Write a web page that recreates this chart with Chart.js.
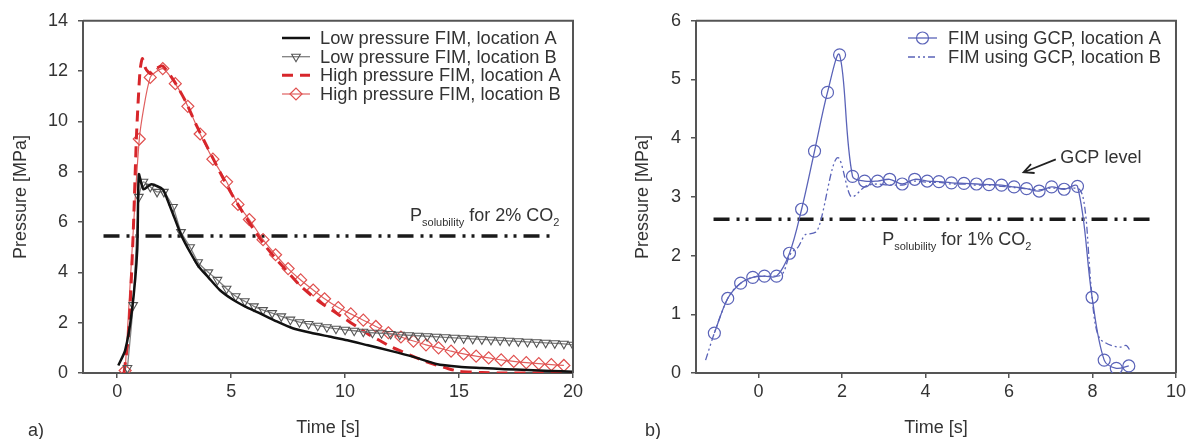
<!DOCTYPE html>
<html>
<head>
<meta charset="utf-8">
<script src="https://cdn.jsdelivr.net/npm/chart.js@4.4.0/dist/chart.umd.min.js"></script>
<style>
    body { margin: 0; background: #fff; width: 1189px; height: 439px; overflow: hidden; position: relative; font-family: "Liberation Sans", Arial, sans-serif; }
    canvas { position: absolute; top: 0; }
    #chartA { left: 0; }
    #chartB { left: 600px; }
    .panel-label { position: absolute; top: 420px; font-size: 18px; line-height: 20px; color: #333; }
</style>
</head>
<body>
<canvas id="chartA" width="600" height="439"></canvas>
<canvas id="chartB" width="589" height="439"></canvas>
<div class="panel-label" style="left:28px">a)</div>
<div class="panel-label" style="left:645px">b)</div>
<script>
// panel a) - low / high pressure FIM
const lowA_t = [0.05, 0.35, 0.65, 0.88, 0.95, 1.15, 1.5, 2.0, 2.2, 2.5, 2.8, 3.2, 3.6, 4.0, 4.5, 5.1, 5.6, 6.2, 7.0, 7.7, 8.5, 9.3, 10.1, 11, 12, 13, 14, 15, 16, 17, 18, 19, 20];
const lowA_p = [0.3, 0.9, 2.5, 4.9, 7.9, 7.3, 7.5, 7.3, 6.9, 6.2, 5.5, 4.8, 4.2, 3.8, 3.3, 2.9, 2.65, 2.4, 2.05, 1.78, 1.6, 1.45, 1.3, 1.1, 0.88, 0.64, 0.36, 0.25, 0.2, 0.15, 0.12, 0.08, 0.05];

const lowB_t = [0.45, 0.7, 0.95, 1.15, 1.45, 1.75, 2.05, 2.45, 2.8, 3.2, 3.55, 4.0, 4.4, 4.8, 5.2, 5.6, 6.0, 6.4, 6.8, 7.2, 7.6, 8.0, 8.4, 8.8, 9.2, 9.6, 10.0, 10.4, 10.8, 11.2, 11.6, 12.0, 12.4, 12.8, 13.2, 13.6, 14.0, 14.4, 14.8, 15.2, 15.6, 16.0, 16.4, 16.8, 17.2, 17.6, 18.0, 18.4, 18.8, 19.2, 19.6, 20.0];
const lowB_p = [0.2, 2.7, 7.0, 7.6, 7.4, 7.2, 7.2, 6.6, 5.6, 5.0, 4.4, 4.0, 3.7, 3.35, 3.05, 2.85, 2.65, 2.5, 2.38, 2.25, 2.12, 2.02, 1.95, 1.88, 1.82, 1.76, 1.72, 1.68, 1.64, 1.6, 1.58, 1.55, 1.52, 1.5, 1.48, 1.46, 1.44, 1.42, 1.4, 1.38, 1.36, 1.34, 1.32, 1.3, 1.28, 1.26, 1.24, 1.22, 1.2, 1.18, 1.16, 1.12];

const highA_t = [0.3, 0.5, 0.7, 0.85, 1.0, 1.1, 1.25, 1.45, 1.7, 2.0, 2.5, 3, 3.5, 4, 4.5, 5, 5.5, 6, 6.5, 7, 7.5, 8, 8.5, 9, 9.5, 10, 10.5, 11, 11.5, 12, 12.5, 13, 13.5, 14, 14.5, 15, 16, 17, 20];
const highA_p = [0, 1.5, 5.5, 9.5, 12.0, 12.5, 12.1, 11.9, 12.1, 12.2, 11.6, 10.8, 9.8, 8.9, 8.0, 7.15, 6.4, 5.7, 5.05, 4.5, 4.0, 3.5, 3.1, 2.75, 2.45, 2.15, 1.85, 1.55, 1.3, 1.05, 0.85, 0.65, 0.47, 0.32, 0.18, 0.07, 0.02, 0, 0];

const highB_t = [0.35, 0.97, 1.45, 2.0, 2.55, 3.1, 3.64, 4.2, 4.8, 5.3, 5.8, 6.4, 6.95, 7.5, 8.05, 8.6, 9.1, 9.7, 10.25, 10.8, 11.35, 11.9, 12.45, 13.0, 13.55, 14.1, 14.65, 15.2, 15.75, 16.3, 16.85, 17.4, 17.95, 18.5, 19.05, 19.6];
const highB_p = [0.1, 9.3, 11.75, 12.1, 11.5, 10.6, 9.5, 8.5, 7.6, 6.7, 6.1, 5.3, 4.7, 4.15, 3.7, 3.3, 2.95, 2.6, 2.35, 2.1, 1.85, 1.6, 1.43, 1.27, 1.12, 1.0, 0.87, 0.76, 0.67, 0.6, 0.52, 0.46, 0.41, 0.37, 0.33, 0.3];

const solA_t = [-0.6, 19.1];
const solA_p = [5.45, 5.45];

const xTicksA = [0, 5, 10, 15, 20];
const yTicksA = [0, 2, 4, 6, 8, 10, 12, 14];

// panel b) - FIM using GCP
const gcpA_t = [-1.06, -0.74, -0.43, -0.14, 0.14, 0.43, 0.74, 1.03, 1.34, 1.65, 1.94, 2.25, 2.54, 2.85, 3.14, 3.44, 3.74, 4.04, 4.32, 4.62, 4.92, 5.22, 5.52, 5.82, 6.12, 6.42, 6.72, 7.02, 7.32, 7.64, 7.99, 8.28, 8.57, 8.87];
const gcpA_p = [0.68, 1.27, 1.53, 1.63, 1.65, 1.65, 2.04, 2.79, 3.78, 4.78, 5.42, 3.35, 3.27, 3.27, 3.3, 3.22, 3.3, 3.27, 3.26, 3.24, 3.23, 3.22, 3.21, 3.2, 3.17, 3.14, 3.1, 3.17, 3.13, 3.18, 1.29, 0.22, 0.08, 0.12];

const gcpB_t = [-1.27, -1.06, -0.74, -0.43, -0.14, 0.14, 0.43, 0.6, 0.74, 0.95, 1.13, 1.37, 1.9, 2.23, 2.56, 2.85, 3.14, 3.44, 3.74, 4.04, 4.32, 4.62, 4.92, 5.22, 5.52, 5.82, 6.12, 6.42, 6.72, 7.02, 7.32, 7.6, 7.75, 7.85, 7.95, 8.05, 8.15, 8.3, 8.5, 8.65, 8.8, 8.92];
const gcpB_p = [0.22, 0.68, 1.27, 1.53, 1.63, 1.65, 1.65, 1.72, 2.0, 2.15, 2.36, 2.4, 3.67, 3.0, 3.18, 3.22, 3.2, 3.2, 3.27, 3.25, 3.25, 3.22, 3.22, 3.2, 3.2, 3.18, 3.16, 3.14, 3.12, 3.15, 3.14, 3.15, 3.05, 2.6, 1.6, 0.9, 0.62, 0.52, 0.46, 0.44, 0.47, 0.36];

const solB_t = [-1.08, 9.52];
const solB_p = [2.62, 2.62];

const xTicksB = [0, 2, 4, 6, 8, 10];
const yTicksB = [0, 1, 2, 3, 4, 5, 6];

const FONT = '"Liberation Sans", Arial, sans-serif';
const SOL_DASH = [16, 7, 3, 6, 3, 7];

Chart.defaults.font.family = FONT;
Chart.defaults.color = '#333';

function points(ts, ps) {
    return ts.map((t, i) => ({ x: t, y: ps[i] }));
}

// top + right side of the box
const frame = {
    id: 'frame',
    afterDatasetsDraw(chart) {
        const { ctx, chartArea: a } = chart;
        ctx.save();
        ctx.strokeStyle = '#555';
        ctx.lineWidth = 2;
        ctx.beginPath();
        ctx.moveTo(a.left, a.top);
        ctx.lineTo(a.right, a.top);
        ctx.lineTo(a.right, a.bottom);
        ctx.stroke();
        ctx.restore();
    }
};

const keyBox = {
    id: 'keyBox',
    afterDraw(chart, args, opts) {
        const ctx = chart.ctx;
        chart.data.datasets.forEach((ds, i) => {
            if (!ds.label) return;
            const y = opts.rows[i];
            ctx.save();
            ctx.strokeStyle = ds.borderColor;
            ctx.lineWidth = ds.borderWidth;
            ctx.setLineDash(ds.borderDash || []);
            ctx.beginPath();
            ctx.moveTo(opts.x0, y);
            ctx.lineTo(opts.x1, y);
            ctx.stroke();
            ctx.setLineDash([]);
            if (ds.pointRadius > 0) {
                ctx.strokeStyle = ds.pointBorderColor;
                ctx.fillStyle = 'rgba(255,255,255,0)';
                ctx.lineWidth = ds.pointBorderWidth;
                Chart.helpers.drawPoint(ctx, {
                    pointStyle: ds.pointStyle,
                    rotation: ds.pointRotation || 0,
                    radius: ds.pointRadius,
                    borderWidth: ds.pointBorderWidth
                }, (opts.x0 + opts.x1) / 2, y);
            }
            ctx.fillStyle = '#333';
            ctx.font = '18.3px ' + FONT;
            ctx.textBaseline = 'middle';
            ctx.fillText(ds.label, opts.textX, y + 1);
            ctx.restore();
        });
    }
};

const notes = {
    id: 'notes',
    afterDraw(chart, args, opts) {
        const { ctx, scales } = chart;
        ctx.save();
        ctx.fillStyle = '#333';
        ctx.textBaseline = 'alphabetic';
        opts.texts.forEach(n => {
            let px = scales.x.getPixelForValue(n.t);
            const py = scales.y.getPixelForValue(n.p);
            n.parts.forEach(([s, sub]) => {
                ctx.font = (sub ? '11px ' : '18px ') + FONT;
                ctx.fillText(s, px, py + (sub ? 5 : 0));
                px += ctx.measureText(s).width;
            });
        });
        if (opts.arrow) {
            const a = opts.arrow;
            const x1 = scales.x.getPixelForValue(a.from[0]), y1 = scales.y.getPixelForValue(a.from[1]);
            const x2 = scales.x.getPixelForValue(a.to[0]), y2 = scales.y.getPixelForValue(a.to[1]);
            const ang = Math.atan2(y2 - y1, x2 - x1);
            ctx.strokeStyle = '#222';
            ctx.lineWidth = 1.8;
            ctx.beginPath();
            ctx.moveTo(x1, y1);
            ctx.lineTo(x2, y2);
            ctx.moveTo(x2 - 11 * Math.cos(ang - 0.45), y2 - 11 * Math.sin(ang - 0.45));
            ctx.lineTo(x2, y2);
            ctx.lineTo(x2 - 11 * Math.cos(ang + 0.45), y2 - 11 * Math.sin(ang + 0.45));
            ctx.stroke();
        }
        ctx.restore();
    }
};

function axes(xMin, xMax, xTicks, yMax, yTicks, yWidth, titlePad) {
    const tickFont = { size: 18 };
    return {
        x: {
            type: 'linear',
            min: xMin,
            max: xMax,
            afterBuildTicks: axis => { axis.ticks = xTicks.map(v => ({ value: v })); },
            afterFit: axis => { axis.height = 66; },
            ticks: { font: tickFont, color: '#333', padding: 3, maxRotation: 0 },
            grid: { drawOnChartArea: false, tickLength: 5, color: '#555', lineWidth: 1.5 },
            border: { color: '#555', width: 2 },
            title: { display: true, text: 'Time [s]', font: { size: 18 }, color: '#333', padding: { top: 0, bottom: 0 } }
        },
        y: {
            type: 'linear',
            min: 0,
            max: yMax,
            afterBuildTicks: axis => { axis.ticks = yTicks.map(v => ({ value: v })); },
            afterFit: axis => { axis.width = yWidth; },
            ticks: { font: tickFont, color: '#333', padding: 10 },
            grid: { drawOnChartArea: false, tickLength: 5, color: '#555', lineWidth: 1.5 },
            border: { color: '#555', width: 2 },
            title: { display: true, text: 'Pressure [MPa]', font: { size: 18 }, color: '#333', padding: { top: titlePad, bottom: 0 } }
        }
    };
}

const solubilityLine = (ts, ps) => ({
    data: points(ts, ps),
    borderColor: '#1a1a1a',
    borderWidth: 3.5,
    borderDash: SOL_DASH,
    pointRadius: 0,
    tension: 0
});

const configA = {
    type: 'line',
    data: {
        datasets: [
            {
                label: 'Low pressure FIM, location A',
                data: points(lowA_t, lowA_p),
                borderColor: '#111', borderWidth: 2.5, pointRadius: 0, tension: 0.2
            },
            {
                label: 'Low pressure FIM, location B',
                data: points(lowB_t, lowB_p),
                borderColor: '#808080', borderWidth: 1.3, tension: 0.2,
                pointStyle: 'triangle', pointRotation: 180, pointRadius: 5,
                pointBorderColor: '#555', pointBorderWidth: 1.1, pointBackgroundColor: 'rgba(255,255,255,0)'
            },
            {
                label: 'High pressure FIM, location A',
                data: points(highA_t, highA_p),
                borderColor: '#d7262b', borderWidth: 3, borderDash: [11, 7], pointRadius: 0, tension: 0.2
            },
            {
                label: 'High pressure FIM, location B',
                data: points(highB_t, highB_p),
                borderColor: '#e06060', borderWidth: 1.2, tension: 0.2,
                pointStyle: 'rectRot', pointRadius: 6,
                pointBorderColor: '#e0504f', pointBorderWidth: 1.2, pointBackgroundColor: 'rgba(255,255,255,0)'
            },
            solubilityLine(solA_t, solA_p)
        ]
    },
    options: {
        responsive: false,
        animation: false,
        events: [],
        layout: { padding: { left: 0, top: 20, right: 27, bottom: 0 } },
        scales: axes(-1.5, 20, xTicksA, 14, yTicksA, 83, 10),
        plugins: {
            legend: { display: false },
            tooltip: { enabled: false },
            keyBox: { x0: 282, x1: 310, textX: 320, rows: [38, 56.7, 75.3, 94] },
            notes: {
                texts: [{ t: 12.85, p: 6.03, parts: [['P'], ['solubility', 1], [' for 2% CO'], ['2', 1]] }]
            }
        }
    },
    plugins: [frame, keyBox, notes]
};

const configB = {
    type: 'line',
    data: {
        datasets: [
            {
                label: 'FIM using GCP, location A',
                data: points(gcpA_t, gcpA_p),
                borderColor: '#5a63b8', borderWidth: 1.3, tension: 0.35,
                pointStyle: 'circle', pointRadius: 6,
                pointBorderColor: '#5a63b8', pointBorderWidth: 1.2, pointBackgroundColor: 'rgba(255,255,255,0)'
            },
            {
                label: 'FIM using GCP, location B',
                data: points(gcpB_t, gcpB_p),
                borderColor: '#5a63b8', borderWidth: 1.3, borderDash: [7, 3, 2, 3, 2, 3],
                pointRadius: 0, cubicInterpolationMode: 'monotone'
            },
            solubilityLine(solB_t, solB_p)
        ]
    },
    options: {
        responsive: false,
        animation: false,
        events: [],
        layout: { padding: { left: 0, top: 20, right: 11, bottom: 0 } },
        scales: axes(-1.5, 10, xTicksB, 6, yTicksB, 96, 32),
        plugins: {
            legend: { display: false },
            tooltip: { enabled: false },
            keyBox: { x0: 308, x1: 337, textX: 348, rows: [38, 57] },
            notes: {
                texts: [
                    { t: 2.96, p: 2.18, parts: [['P'], ['solubility', 1], [' for 1% CO'], ['2', 1]] },
                    { t: 7.23, p: 3.57, parts: [['GCP level']] }
                ],
                arrow: { from: [7.12, 3.64], to: [6.35, 3.42] }
            }
        }
    },
    plugins: [frame, keyBox, notes]
};

const chartA = new Chart(document.getElementById('chartA'), configA);
const chartB = new Chart(document.getElementById('chartB'), configB);
</script>
</body>
</html>
